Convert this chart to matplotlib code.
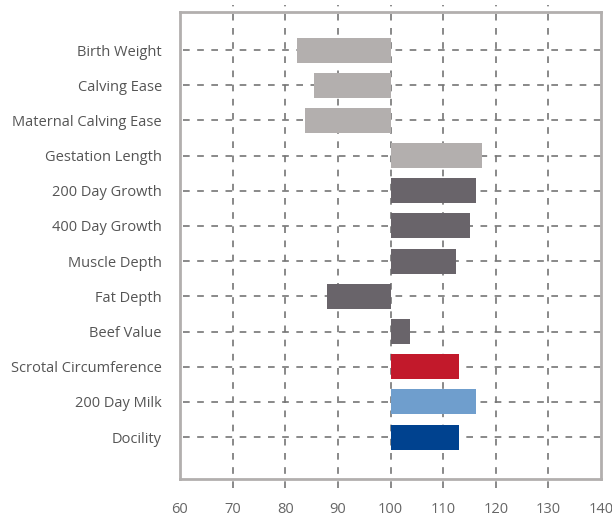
import matplotlib
matplotlib.use("Agg")
import matplotlib.pyplot as plt

# traits, top to bottom
traits = ["Birth Weight", "Calving Ease", "Maternal Calving Ease", "Gestation Length",
          "200 Day Growth", "400 Day Growth", "Muscle Depth", "Fat Depth",
          "Beef Value", "Scrotal Circumference", "200 Day Milk", "Docility"]
# index values (bars start at 100)
values = [82.3, 85.4, 83.8, 117.3, 116.2, 115.2, 112.5, 87.9, 103.8, 113.1, 116.2, 113.1]
groups = ["light", "light", "light", "light", "dark", "dark", "dark", "dark",
          "dark", "red", "sky", "navy"]
ticks = [60, 70, 80, 90, 100, 110, 120, 130, 140]

palette = {"light": "#b3afae", "dark": "#69646a", "red": "#c2192b",
           "sky": "#6f9ecd", "navy": "#00428f"}

plt.rcParams['font.family'] = ['Open Sans', 'DejaVu Sans']

fig = plt.figure(figsize=(6.12, 5.17), dpi=100)
ax = fig.add_axes([180/612, 1-479/517, 421/612, 467/517])

pos = list(range(len(traits)))
base = 100
widths = [v - base for v in values]
ax.barh(pos, widths, left=base, height=0.71,
        color=[palette[g] for g in groups], zorder=3)

ax.set_xlim(60, 140)
ax.set_ylim(12.19, -1.08)

# dashed grid, vertical lines poke out past the frame
for t in ticks[1:-1]:
    ax.axvline(t, ymin=-0.02, ymax=1.016, color="#757575", lw=1.2,
               dashes=(4, 4.5), clip_on=False, zorder=1)
for p in pos:
    ax.axhline(p, xmin=0.008, xmax=1, color="#757575", lw=1.2,
               dashes=(4, 4.5), zorder=1)

ax.set_xticks(ticks)
ax.set_xticklabels([str(t) for t in ticks])
ax.set_yticks(pos)
ax.set_yticklabels(traits)
ax.tick_params(axis="x", length=0, pad=16.5, labelsize=10.5, labelcolor="#666666")
ax.tick_params(axis="y", length=0, pad=13, labelsize=10.5, labelcolor="#555555")

for s in ax.spines.values():
    s.set_color("#b2afae")
    s.set_linewidth(2)

fig.savefig("out.png", dpi=100)
